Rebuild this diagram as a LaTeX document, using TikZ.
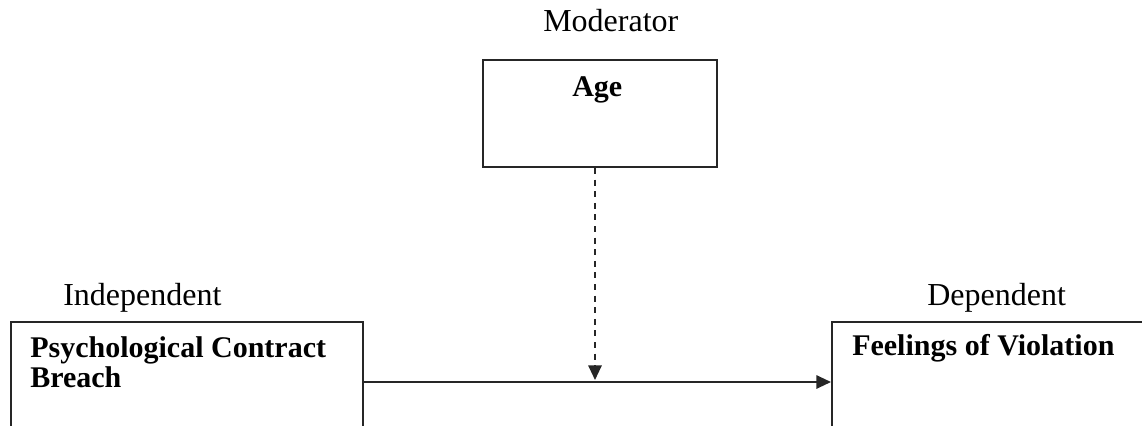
\documentclass[tikz,border=0pt]{standalone}
\usepackage{fontspec}
\setmainfont{Liberation Serif}
\usetikzlibrary{arrows.meta,fit}
\begin{document}
\begin{tikzpicture}[x=0.75pt,y=-0.75pt,
  box/.style={draw=black!85,line width=1.5pt,inner sep=0pt,fit=#1},
  lbl/.style={anchor=base west,inner sep=0pt,font=\fontsize{24}{24}\selectfont},
  ttl/.style={anchor=base west,inner sep=0pt,align=left,font=\fontsize{22.5}{22.5}\selectfont\bfseries},
  conn/.style={line width=1.5pt,draw=black!85,-{Triangle[length=11pt,width=10pt]}},
  dashconn/.style={conn,dash pattern=on 4.5pt off 4.2pt}]
\useasboundingbox (0,0) rectangle (1142,425);
\clip (0,0) rectangle (1142,425);
% corner coordinates
\coordinate (a1) at (483,60);  \coordinate (a2) at (717,167);
\coordinate (p1) at (11,322);  \coordinate (p2) at (363,480);
\coordinate (f1) at (832,322); \coordinate (f2) at (1250,480);
\node[box={(a1)(a2)}] (age) {};
\node[box={(p1)(p2)}] (pcb) {};
\node[box={(f1)(f2)}] (fov) {};
% labels
\node[lbl] (modl) at (543,31) {Moderator};
\node[lbl] (indl) at (63,305) {Independent};
\node[lbl] (depl) at (927,305) {Dependent};
\node[ttl] (aget) at (572,96) {Age};
\node[ttl] (pcbt) at (30,387) {Psychological Contract\\Breach};
\node[ttl] (fovt) at (852,355) {Feelings of Violation};
% connectors
\coordinate (mid) at (595,382);
\draw[conn] (pcb.east |- mid) -- (fov.west |- mid);
\draw[dashconn] (age.south -| mid) -- ([yshift=1.5pt]mid);
\end{tikzpicture}
\end{document}
